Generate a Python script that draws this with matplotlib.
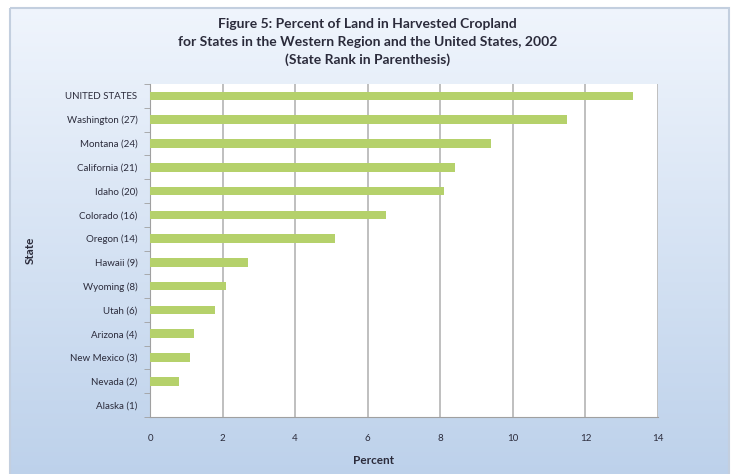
import numpy as np
import matplotlib
matplotlib.use('Agg')
import matplotlib.pyplot as plt
from matplotlib.patches import Rectangle

plt.rcParams['font.family'] = ['Lato', 'DejaVu Sans']

#Data
#-----------------------
states = ['UNITED STATES', 'Washington (27)', 'Montana (24)', 'California (21)',
          'Idaho (20)', 'Colorado (16)', 'Oregon (14)', 'Hawaii (9)',
          'Wyoming (8)', 'Utah (6)', 'Arizona (4)', 'New Mexico (3)',
          'Nevada (2)', 'Alaska (1)']
percent = [13.3, 11.5, 9.4, 8.4, 8.1, 6.5, 5.1, 2.7, 2.1, 1.8, 1.2, 1.1, 0.8, 0.0]
xticks = [0, 2, 4, 6, 8, 10, 12, 14]

title = ('Figure 5: Percent of Land in Harvested Cropland\n'
         'for States in the Western Region and the United States, 2002\n'
         '(State Rank in Parenthesis)')

W, H = 735, 474
fig = plt.figure(figsize=(W/100, H/100), dpi=100)

#Gradient chart-area background
#------------------------------
bg = fig.add_axes([0, 0, 1, 1], zorder=0)
bg.set_xlim(0, W)
bg.set_ylim(H, 0)
bg.axis('off')
top = np.array([0.94, 0.96, 0.99])
bot = np.array([0.74, 0.82, 0.92])
t = np.linspace(0, 1, 256)[:, None]
grad = top + (bot - top) * t
bg.imshow(grad[:, None, :], extent=[10, 729, 478, 8], aspect='auto', zorder=0)
bg.add_patch(Rectangle((10, 8), 719, 470, fill=False, ec='#c3cfdf', lw=1.5, zorder=1))

#Bar chart
#---------
ax = fig.add_axes([150/W, 1 - 417/H, 508/W, 333/H], zorder=2)
ax.set_facecolor('white')
y = np.arange(len(states))
ax.barh(y, percent, height=0.36, color='#b5d16b', zorder=3)
ax.set_ylim(len(states) - 0.5, -0.5)
ax.set_xlim(0, 14)
ax.set_xticks(xticks)
ax.set_yticks(y)
ax.set_yticklabels(states)
ax.xaxis.grid(True, color='#b4b4b4', lw=1.2, zorder=0)
ax.tick_params(axis='x', length=0, pad=12, labelsize=7, labelcolor='#2b2b3b')
ax.tick_params(axis='y', length=0, pad=9, labelsize=7, labelcolor='#2b2b3b')
ax.set_yticks(np.arange(len(states) + 1) - 0.5, minor=True)
ax.tick_params(axis='y', which='minor', length=4, color='#a0a0a0')
for s in ['top', 'right']:
    ax.spines[s].set_visible(False)
ax.spines['left'].set_color('#a0a0a0')
ax.spines['bottom'].set_color('#a0a0a0')

ax.set_xlabel('Percent', fontsize=8.5, fontweight='bold', color='#2b2b3b')
ax.xaxis.set_label_coords(0.44, -0.115)
ax.set_ylabel('State', fontsize=8.5, fontweight='bold', color='#2b2b3b')
ax.yaxis.set_label_coords(-0.225, 0.5)

fig.text(0.5, 0.962, title, ha='center', va='top', fontsize=10, fontweight='bold',
         color='#2b2b3b', linespacing=1.55)

fig.savefig('out.png', dpi=100)
